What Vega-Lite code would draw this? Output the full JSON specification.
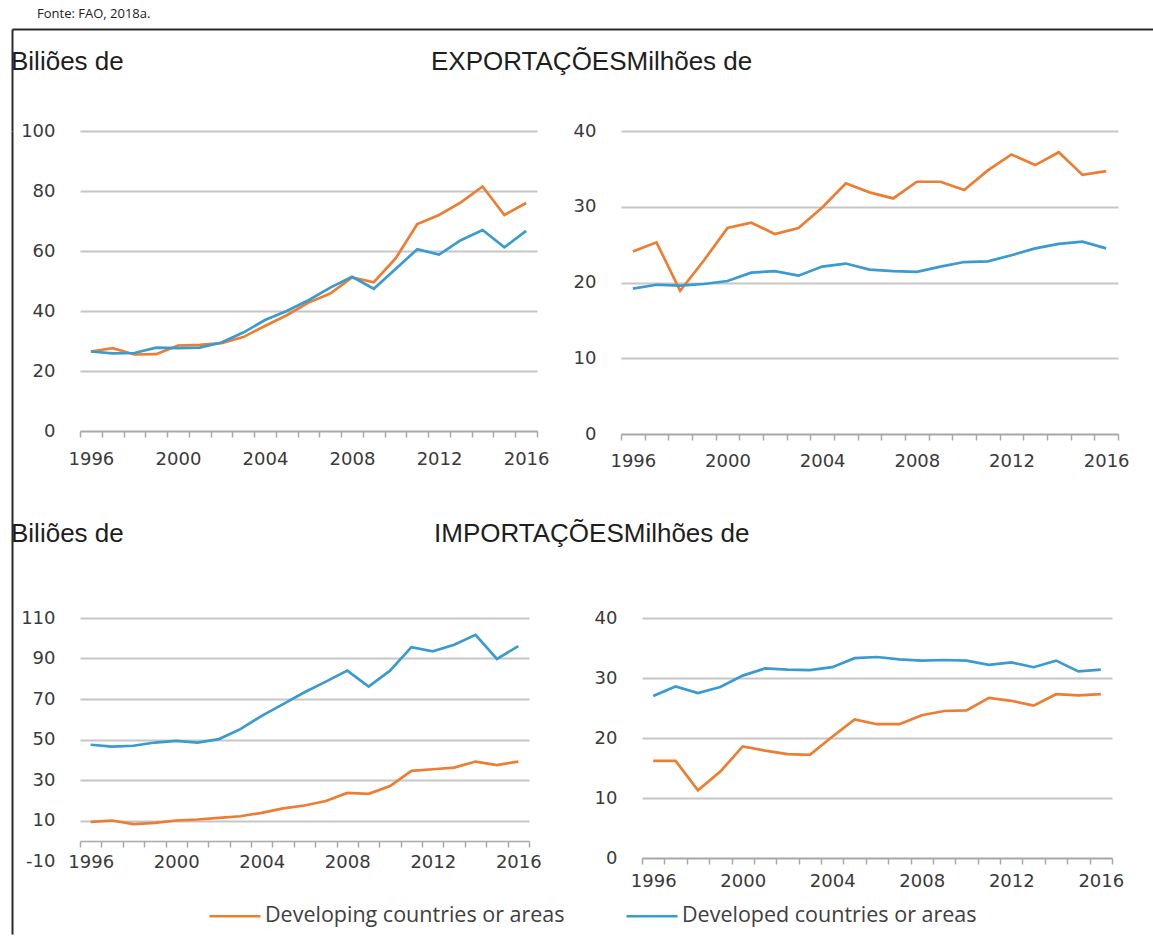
{
  "$schema": "https://vega.github.io/schema/vega-lite/v6.json",
  "padding": {"left": 9, "top": 8, "right": 0, "bottom": 0},
  "background": "white",
  "config": {
    "view": {"stroke": null},
    "axis": {"labelFont": "DejaVu Sans", "labelFontSize": 18, "labelColor": "#3a3a3a"},
    "axisX": {"tickBand": "extent", "domainColor": "#a8a8a8", "domainWidth": 1.5, "tickColor": "#a8a8a8", "tickWidth": 1.5, "tickSize": 6, "labelPadding": 13, "grid": false, "labelAngle": 0, "labelOverlap": false, "labelExpr": "datum.value % 4 === 0 ? datum.label : ''"},
    "axisY": {"domain": false, "ticks": false, "gridColor": "#c6c6c6", "gridWidth": 2, "labelPadding": 25},
    "line": {"strokeWidth": 2.7},
    "title": {"font": "Liberation Sans", "fontSize": 26, "fontWeight": "normal", "color": "#1e1e1e", "anchor": "start", "frame": "group"},
    "legend": {"orient": "none", "legendX": 196, "legendY": 860, "direction": "horizontal", "symbolType": "stroke", "symbolSize": 2600, "symbolStrokeWidth": 2.5, "labelFont": "Open Sans", "labelFontSize": 21.5, "labelColor": "#404040", "labelLimit": 500, "columnPadding": 56, "labelOffset": 3}
  },
  "datasets": {
    "exp_usd": [
      {"year": 1996, "series": "Developing countries or areas", "value": 26.5},
      {"year": 1997, "series": "Developing countries or areas", "value": 27.6},
      {"year": 1998, "series": "Developing countries or areas", "value": 25.5},
      {"year": 1999, "series": "Developing countries or areas", "value": 25.6},
      {"year": 2000, "series": "Developing countries or areas", "value": 28.5},
      {"year": 2001, "series": "Developing countries or areas", "value": 28.7},
      {"year": 2002, "series": "Developing countries or areas", "value": 29.3},
      {"year": 2003, "series": "Developing countries or areas", "value": 31.3},
      {"year": 2004, "series": "Developing countries or areas", "value": 35.0},
      {"year": 2005, "series": "Developing countries or areas", "value": 38.6},
      {"year": 2006, "series": "Developing countries or areas", "value": 42.8},
      {"year": 2007, "series": "Developing countries or areas", "value": 45.8},
      {"year": 2008, "series": "Developing countries or areas", "value": 51.2},
      {"year": 2009, "series": "Developing countries or areas", "value": 49.6},
      {"year": 2010, "series": "Developing countries or areas", "value": 57.5},
      {"year": 2011, "series": "Developing countries or areas", "value": 69.0},
      {"year": 2012, "series": "Developing countries or areas", "value": 72.0},
      {"year": 2013, "series": "Developing countries or areas", "value": 76.2},
      {"year": 2014, "series": "Developing countries or areas", "value": 81.5},
      {"year": 2015, "series": "Developing countries or areas", "value": 72.0},
      {"year": 2016, "series": "Developing countries or areas", "value": 76.0},
      {"year": 1996, "series": "Developed countries or areas", "value": 26.5},
      {"year": 1997, "series": "Developed countries or areas", "value": 25.9},
      {"year": 1998, "series": "Developed countries or areas", "value": 26.0},
      {"year": 1999, "series": "Developed countries or areas", "value": 27.8},
      {"year": 2000, "series": "Developed countries or areas", "value": 27.6},
      {"year": 2001, "series": "Developed countries or areas", "value": 27.8},
      {"year": 2002, "series": "Developed countries or areas", "value": 29.5},
      {"year": 2003, "series": "Developed countries or areas", "value": 32.8},
      {"year": 2004, "series": "Developed countries or areas", "value": 37.0},
      {"year": 2005, "series": "Developed countries or areas", "value": 40.0},
      {"year": 2006, "series": "Developed countries or areas", "value": 43.6},
      {"year": 2007, "series": "Developed countries or areas", "value": 47.8},
      {"year": 2008, "series": "Developed countries or areas", "value": 51.4},
      {"year": 2009, "series": "Developed countries or areas", "value": 47.4},
      {"year": 2010, "series": "Developed countries or areas", "value": 54.0},
      {"year": 2011, "series": "Developed countries or areas", "value": 60.6},
      {"year": 2012, "series": "Developed countries or areas", "value": 58.8},
      {"year": 2013, "series": "Developed countries or areas", "value": 63.6},
      {"year": 2014, "series": "Developed countries or areas", "value": 67.0},
      {"year": 2015, "series": "Developed countries or areas", "value": 61.2},
      {"year": 2016, "series": "Developed countries or areas", "value": 66.7}
    ],
    "exp_t": [
      {"year": 1996, "series": "Developing countries or areas", "value": 24.1},
      {"year": 1997, "series": "Developing countries or areas", "value": 25.3},
      {"year": 1998, "series": "Developing countries or areas", "value": 18.9},
      {"year": 1999, "series": "Developing countries or areas", "value": 22.9},
      {"year": 2000, "series": "Developing countries or areas", "value": 27.2},
      {"year": 2001, "series": "Developing countries or areas", "value": 27.9},
      {"year": 2002, "series": "Developing countries or areas", "value": 26.4},
      {"year": 2003, "series": "Developing countries or areas", "value": 27.2},
      {"year": 2004, "series": "Developing countries or areas", "value": 29.9},
      {"year": 2005, "series": "Developing countries or areas", "value": 33.1},
      {"year": 2006, "series": "Developing countries or areas", "value": 31.9},
      {"year": 2007, "series": "Developing countries or areas", "value": 31.1},
      {"year": 2008, "series": "Developing countries or areas", "value": 33.3},
      {"year": 2009, "series": "Developing countries or areas", "value": 33.3},
      {"year": 2010, "series": "Developing countries or areas", "value": 32.2},
      {"year": 2011, "series": "Developing countries or areas", "value": 34.8},
      {"year": 2012, "series": "Developing countries or areas", "value": 36.9},
      {"year": 2013, "series": "Developing countries or areas", "value": 35.5},
      {"year": 2014, "series": "Developing countries or areas", "value": 37.2},
      {"year": 2015, "series": "Developing countries or areas", "value": 34.2},
      {"year": 2016, "series": "Developing countries or areas", "value": 34.7},
      {"year": 1996, "series": "Developed countries or areas", "value": 19.2},
      {"year": 1997, "series": "Developed countries or areas", "value": 19.7},
      {"year": 1998, "series": "Developed countries or areas", "value": 19.6},
      {"year": 1999, "series": "Developed countries or areas", "value": 19.8},
      {"year": 2000, "series": "Developed countries or areas", "value": 20.2},
      {"year": 2001, "series": "Developed countries or areas", "value": 21.3},
      {"year": 2002, "series": "Developed countries or areas", "value": 21.5},
      {"year": 2003, "series": "Developed countries or areas", "value": 20.9},
      {"year": 2004, "series": "Developed countries or areas", "value": 22.1},
      {"year": 2005, "series": "Developed countries or areas", "value": 22.5},
      {"year": 2006, "series": "Developed countries or areas", "value": 21.7},
      {"year": 2007, "series": "Developed countries or areas", "value": 21.5},
      {"year": 2008, "series": "Developed countries or areas", "value": 21.4},
      {"year": 2009, "series": "Developed countries or areas", "value": 22.1},
      {"year": 2010, "series": "Developed countries or areas", "value": 22.7},
      {"year": 2011, "series": "Developed countries or areas", "value": 22.8},
      {"year": 2012, "series": "Developed countries or areas", "value": 23.6},
      {"year": 2013, "series": "Developed countries or areas", "value": 24.5},
      {"year": 2014, "series": "Developed countries or areas", "value": 25.1},
      {"year": 2015, "series": "Developed countries or areas", "value": 25.4},
      {"year": 2016, "series": "Developed countries or areas", "value": 24.5}
    ],
    "imp_usd": [
      {"year": 1996, "series": "Developing countries or areas", "value": 9.3},
      {"year": 1997, "series": "Developing countries or areas", "value": 10.0},
      {"year": 1998, "series": "Developing countries or areas", "value": 8.2},
      {"year": 1999, "series": "Developing countries or areas", "value": 8.8},
      {"year": 2000, "series": "Developing countries or areas", "value": 10.0},
      {"year": 2001, "series": "Developing countries or areas", "value": 10.5},
      {"year": 2002, "series": "Developing countries or areas", "value": 11.3},
      {"year": 2003, "series": "Developing countries or areas", "value": 12.1},
      {"year": 2004, "series": "Developing countries or areas", "value": 13.8},
      {"year": 2005, "series": "Developing countries or areas", "value": 16.0},
      {"year": 2006, "series": "Developing countries or areas", "value": 17.4},
      {"year": 2007, "series": "Developing countries or areas", "value": 19.6},
      {"year": 2008, "series": "Developing countries or areas", "value": 23.6},
      {"year": 2009, "series": "Developing countries or areas", "value": 23.2},
      {"year": 2010, "series": "Developing countries or areas", "value": 27.0},
      {"year": 2011, "series": "Developing countries or areas", "value": 34.5},
      {"year": 2012, "series": "Developing countries or areas", "value": 35.3},
      {"year": 2013, "series": "Developing countries or areas", "value": 36.1},
      {"year": 2014, "series": "Developing countries or areas", "value": 39.1},
      {"year": 2015, "series": "Developing countries or areas", "value": 37.4},
      {"year": 2016, "series": "Developing countries or areas", "value": 39.1},
      {"year": 1996, "series": "Developed countries or areas", "value": 47.4},
      {"year": 1997, "series": "Developed countries or areas", "value": 46.5},
      {"year": 1998, "series": "Developed countries or areas", "value": 46.9},
      {"year": 1999, "series": "Developed countries or areas", "value": 48.5},
      {"year": 2000, "series": "Developed countries or areas", "value": 49.3},
      {"year": 2001, "series": "Developed countries or areas", "value": 48.5},
      {"year": 2002, "series": "Developed countries or areas", "value": 50.2},
      {"year": 2003, "series": "Developed countries or areas", "value": 55.1},
      {"year": 2004, "series": "Developed countries or areas", "value": 61.7},
      {"year": 2005, "series": "Developed countries or areas", "value": 67.5},
      {"year": 2006, "series": "Developed countries or areas", "value": 73.3},
      {"year": 2007, "series": "Developed countries or areas", "value": 78.6},
      {"year": 2008, "series": "Developed countries or areas", "value": 84.0},
      {"year": 2009, "series": "Developed countries or areas", "value": 76.1},
      {"year": 2010, "series": "Developed countries or areas", "value": 84.0},
      {"year": 2011, "series": "Developed countries or areas", "value": 95.6},
      {"year": 2012, "series": "Developed countries or areas", "value": 93.5},
      {"year": 2013, "series": "Developed countries or areas", "value": 96.8},
      {"year": 2014, "series": "Developed countries or areas", "value": 101.7},
      {"year": 2015, "series": "Developed countries or areas", "value": 89.8},
      {"year": 2016, "series": "Developed countries or areas", "value": 96.1}
    ],
    "imp_t": [
      {"year": 1996, "series": "Developing countries or areas", "value": 16.2},
      {"year": 1997, "series": "Developing countries or areas", "value": 16.2},
      {"year": 1998, "series": "Developing countries or areas", "value": 11.3},
      {"year": 1999, "series": "Developing countries or areas", "value": 14.4},
      {"year": 2000, "series": "Developing countries or areas", "value": 18.6},
      {"year": 2001, "series": "Developing countries or areas", "value": 17.9},
      {"year": 2002, "series": "Developing countries or areas", "value": 17.3},
      {"year": 2003, "series": "Developing countries or areas", "value": 17.2},
      {"year": 2004, "series": "Developing countries or areas", "value": 20.2},
      {"year": 2005, "series": "Developing countries or areas", "value": 23.1},
      {"year": 2006, "series": "Developing countries or areas", "value": 22.3},
      {"year": 2007, "series": "Developing countries or areas", "value": 22.3},
      {"year": 2008, "series": "Developing countries or areas", "value": 23.8},
      {"year": 2009, "series": "Developing countries or areas", "value": 24.5},
      {"year": 2010, "series": "Developing countries or areas", "value": 24.6},
      {"year": 2011, "series": "Developing countries or areas", "value": 26.7},
      {"year": 2012, "series": "Developing countries or areas", "value": 26.2},
      {"year": 2013, "series": "Developing countries or areas", "value": 25.4},
      {"year": 2014, "series": "Developing countries or areas", "value": 27.3},
      {"year": 2015, "series": "Developing countries or areas", "value": 27.1},
      {"year": 2016, "series": "Developing countries or areas", "value": 27.3},
      {"year": 1996, "series": "Developed countries or areas", "value": 27.0},
      {"year": 1997, "series": "Developed countries or areas", "value": 28.6},
      {"year": 1998, "series": "Developed countries or areas", "value": 27.5},
      {"year": 1999, "series": "Developed countries or areas", "value": 28.5},
      {"year": 2000, "series": "Developed countries or areas", "value": 30.4},
      {"year": 2001, "series": "Developed countries or areas", "value": 31.6},
      {"year": 2002, "series": "Developed countries or areas", "value": 31.4},
      {"year": 2003, "series": "Developed countries or areas", "value": 31.3},
      {"year": 2004, "series": "Developed countries or areas", "value": 31.8},
      {"year": 2005, "series": "Developed countries or areas", "value": 33.3},
      {"year": 2006, "series": "Developed countries or areas", "value": 33.5},
      {"year": 2007, "series": "Developed countries or areas", "value": 33.1},
      {"year": 2008, "series": "Developed countries or areas", "value": 32.9},
      {"year": 2009, "series": "Developed countries or areas", "value": 33.0},
      {"year": 2010, "series": "Developed countries or areas", "value": 32.9},
      {"year": 2011, "series": "Developed countries or areas", "value": 32.2},
      {"year": 2012, "series": "Developed countries or areas", "value": 32.6},
      {"year": 2013, "series": "Developed countries or areas", "value": 31.8},
      {"year": 2014, "series": "Developed countries or areas", "value": 32.9},
      {"year": 2015, "series": "Developed countries or areas", "value": 31.1},
      {"year": 2016, "series": "Developed countries or areas", "value": 31.4}
    ]
  },
  "bounds": "flush",
  "spacing": 0,
  "vconcat": [
    {
      "width": 1141,
      "height": 102,
      "title": {"text": "Fonte: FAO, 2018a.", "dx": 25, "offset": 8, "fontSize": 13, "font": "Open Sans", "color": "#222222"},
      "data": {"values": [{}]},
      "mark": {"type": "point", "opacity": 0},
      "encoding": {
        "x": {"datum": 0, "type": "quantitative", "scale": {"domain": [0, 1]}, "axis": {"orient": "top", "domain": true, "domainColor": "#2b2b2b", "domainWidth": 2, "ticks": false, "labels": false, "grid": false, "title": null}},
        "y": {"datum": 0, "type": "quantitative", "scale": {"domain": [0, 1]}, "axis": {"orient": "left", "domain": true, "domainColor": "#2b2b2b", "domainWidth": 2, "ticks": false, "labels": false, "grid": false, "title": null}}
      }
    },
    {
      "bounds": "flush",
      "spacing": 67,
      "hconcat": [
        {
          "width": 1,
          "height": 803,
          "data": {"values": [{}]},
          "mark": {"type": "point", "opacity": 0},
          "encoding": {
            "y": {"datum": 0, "type": "quantitative", "scale": {"domain": [0, 1]}, "axis": {"orient": "left", "domain": true, "domainColor": "#2b2b2b", "domainWidth": 2, "ticks": false, "labels": false, "grid": false, "title": null}}
          }
        },
        {
          "bounds": "flush",
          "spacing": 487,
          "vconcat": [
            {
              "bounds": "flush",
              "spacing": 84,
              "hconcat": [
                {
                  "width": 457,
                  "height": 300,
                  "title": {"text": "Biliões de", "dx": -69, "offset": 47},
                  "data": {"name": "exp_usd"},
                  "mark": {"type": "line"},
                  "encoding": {
                    "x": {"field": "year", "type": "ordinal", "bandPosition": 0.5, "scale": {"type": "band", "paddingInner": 0, "paddingOuter": 0}, "axis": {"title": null}},
                    "y": {"field": "value", "type": "quantitative", "scale": {"domain": [0, 100], "nice": false}, "axis": {"title": null, "values": [0, 20, 40, 60, 80, 100]}},
                    "color": {"field": "series", "type": "nominal", "scale": {"domain": ["Developing countries or areas", "Developed countries or areas"], "range": ["#ED7D31", "#3A9BCF"]}, "legend": {"title": null}}
                  }
                },
                {
                  "width": 497,
                  "height": 303,
                  "title": {"text": "EXPORTAÇÕESMilhões de", "dx": -190, "offset": 47},
                  "data": {"name": "exp_t"},
                  "mark": {"type": "line"},
                  "encoding": {
                    "x": {"field": "year", "type": "ordinal", "bandPosition": 0.5, "scale": {"type": "band", "paddingInner": 0, "paddingOuter": 0}, "axis": {"title": null, "labelPadding": 12}},
                    "y": {"field": "value", "type": "quantitative", "scale": {"domain": [0, 40], "nice": false}, "axis": {"title": null, "values": [0, 10, 20, 30, 40]}},
                    "color": {"field": "series", "type": "nominal", "scale": {"domain": ["Developing countries or areas", "Developed countries or areas"], "range": ["#ED7D31", "#3A9BCF"]}, "legend": {"title": null}}
                  }
                }
              ]
            },
            {
              "bounds": "flush",
              "spacing": 113,
              "hconcat": [
                {
                  "width": 449,
                  "height": 243,
                  "title": {"text": "Biliões de", "dx": -69, "offset": 62},
                  "data": {"name": "imp_usd"},
                  "mark": {"type": "line"},
                  "encoding": {
                    "x": {"field": "year", "type": "ordinal", "bandPosition": 0.5, "scale": {"type": "band", "paddingInner": 0, "paddingOuter": 0}, "axis": {"title": null, "offset": -20, "labelPadding": 6}},
                    "y": {"field": "value", "type": "quantitative", "scale": {"domain": [-10, 110], "nice": false}, "axis": {"title": null, "values": [-10, 10, 30, 50, 70, 90, 110], "labelExpr": "replace(datum.label, '−', '-')", "gridColor": {"condition": {"test": "datum.value === -10", "value": "transparent"}, "value": "#c6c6c6"}}},
                    "color": {"field": "series", "type": "nominal", "scale": {"domain": ["Developing countries or areas", "Developed countries or areas"], "range": ["#ED7D31", "#3A9BCF"]}, "legend": {"title": null}}
                  }
                },
                {
                  "width": 470,
                  "height": 240,
                  "title": {"text": "IMPORTAÇÕESMilhões de", "dx": -208, "offset": 62},
                  "data": {"name": "imp_t"},
                  "mark": {"type": "line"},
                  "encoding": {
                    "x": {"field": "year", "type": "ordinal", "bandPosition": 0.5, "scale": {"type": "band", "paddingInner": 0, "paddingOuter": 0}, "axis": {"title": null, "labelPadding": 8}},
                    "y": {"field": "value", "type": "quantitative", "scale": {"domain": [0, 40], "nice": false}, "axis": {"title": null, "values": [0, 10, 20, 30, 40]}},
                    "color": {"field": "series", "type": "nominal", "scale": {"domain": ["Developing countries or areas", "Developed countries or areas"], "range": ["#ED7D31", "#3A9BCF"]}, "legend": {"title": null}}
                  }
                }
              ]
            }
          ]
        }
      ]
    }
  ]
}
